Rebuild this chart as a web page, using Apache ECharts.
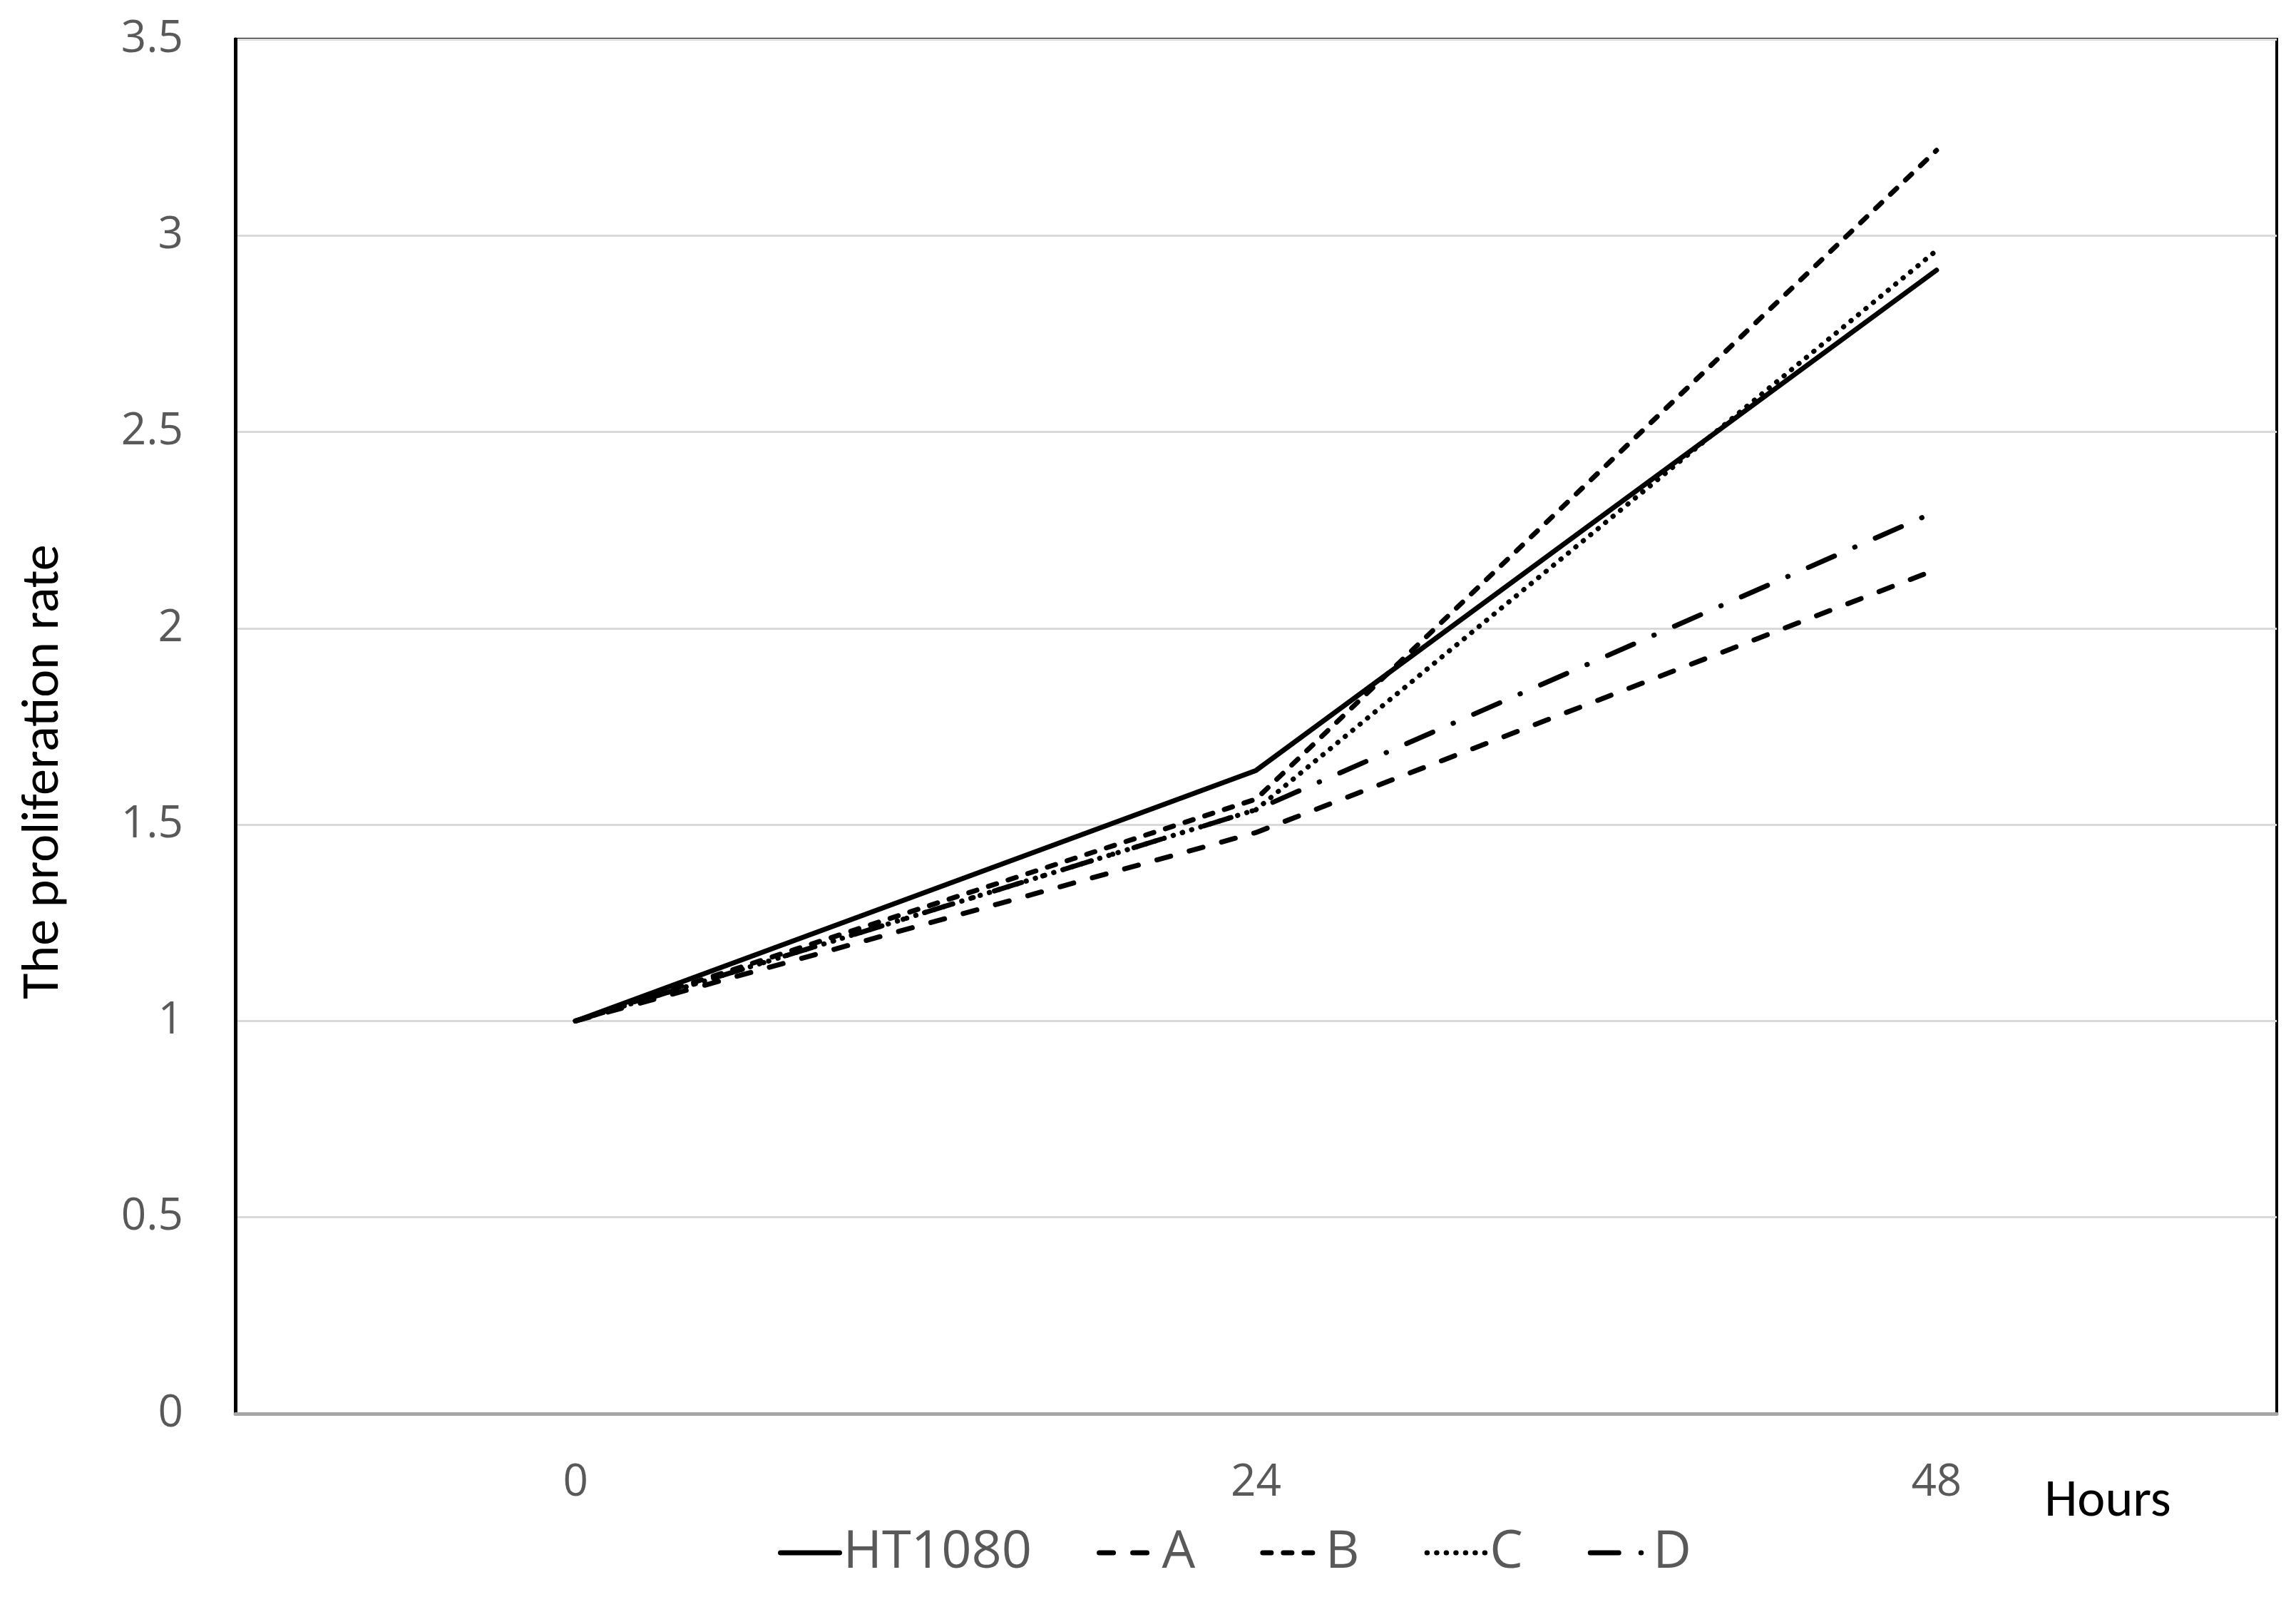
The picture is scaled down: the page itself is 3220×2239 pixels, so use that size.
<!DOCTYPE html>
<html>
<head>
<meta charset="utf-8">
<script src="https://cdn.jsdelivr.net/npm/echarts@6/dist/echarts.min.js"></script>
<style>
html,body{margin:0;padding:0;background:#fff;}
#chart{width:3220px;height:2239px;}
</style>
</head>
<body>
<div id="chart"></div>
<script>
const hours = ['0', '24', '48'];
const seriesNames = ['HT1080', 'A', 'B', 'C', 'D'];
const ht1080 = [1.0, 1.638, 2.912];
const seriesA = [1.0, 1.48, 2.15];
const seriesB = [1.0, 1.565, 3.217];
const seriesC = [1.0, 1.538, 2.962];
const seriesD = [1.0, 1.538, 2.298];
const yTicks = [0, 0.5, 1, 1.5, 2, 2.5, 3, 3.5];

const dashStyles = [
  'solid',
  [20, 27],
  [12, 17],
  [0.5, 13],
  [40, 31, 0.5, 31]
];
const values = [ht1080, seriesA, seriesB, seriesC, seriesD];

const chart = echarts.init(document.getElementById('chart'), null, {renderer: 'canvas'});
const labelFont = "'Open Sans', 'Noto Sans', sans-serif";
const titleFont = "Carlito, 'Open Sans', sans-serif";

chart.setOption({
  animation: false,
  backgroundColor: '#ffffff',
  grid: {
    left: 330, right: 27, top: 55, bottom: 257,
    show: true, borderColor: '#000000', borderWidth: 4, backgroundColor: 'transparent'
  },
  xAxis: {
    type: 'category',
    data: hours,
    boundaryGap: true,
    axisLine: {show: true, lineStyle: {color: '#a6a6a6', width: 5}},
    axisTick: {show: false},
    axisLabel: {color: '#595959', fontSize: 62, fontFamily: labelFont, margin: 66},
    splitLine: {show: false}
  },
  yAxis: {
    type: 'value',
    min: yTicks[0],
    max: yTicks[yTicks.length - 1],
    interval: 0.5,
    axisLine: {show: true, lineStyle: {color: '#000000', width: 5}},
    axisTick: {show: false},
    axisLabel: {color: '#595959', fontSize: 62, fontFamily: labelFont, margin: 73},
    splitLine: {show: true, lineStyle: {color: '#d9d9d9', width: 3}}
  },
  legend: {
    data: seriesNames,
    left: 1086,
    top: 2135,
    itemWidth: 83,
    itemHeight: 30,
    itemGap: 91,
    textStyle: {color: '#595959', fontSize: 74, fontFamily: labelFont, padding: [0, 0, 0, 0]},
    itemStyle: {opacity: 0, borderWidth: 0},
    lineStyle: {width: 7}
  },
  graphic: [
    {
      type: 'text',
      x: 62, y: 1082,
      rotation: Math.PI / 2,
      style: {
        text: 'The proliferation rate',
        fill: '#000000',
        font: "74px " + titleFont,
        textAlign: 'center',
        textVerticalAlign: 'middle'
      }
    },
    {
      type: 'text',
      x: 2956, y: 2106,
      style: {
        text: 'Hours',
        fill: '#000000',
        font: "74px " + titleFont,
        textAlign: 'center',
        textVerticalAlign: 'middle'
      }
    }
  ],
  series: seriesNames.map((name, i) => ({
    name: name,
    type: 'line',
    data: values[i],
    symbol: 'none',
    showSymbol: false,
    lineStyle: {color: '#000000', width: 7, type: dashStyles[i], cap: 'round', join: 'round'},
    itemStyle: {color: '#000000'},
    z: 10 - i
  }))
});
</script>
</body>
</html>
